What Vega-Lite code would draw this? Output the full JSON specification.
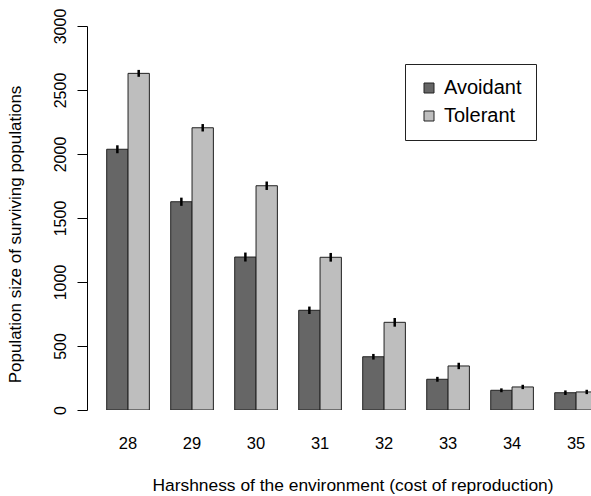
{
  "$schema": "https://vega.github.io/schema/vega-lite/v6.json",
  "width": 504,
  "height": 384,
  "autosize": {"type": "none"},
  "padding": {"left": 87, "top": 26, "right": 0, "bottom": 86},
  "config": {"view": {"stroke": null}, "font": "Liberation Sans"},
  "data": {
    "values": [
      {"cost": 28, "strategy": "Avoidant", "value": 2037, "lo": 2006, "hi": 2068},
      {"cost": 28, "strategy": "Tolerant", "value": 2630, "lo": 2603, "hi": 2657},
      {"cost": 29, "strategy": "Avoidant", "value": 1627, "lo": 1595, "hi": 1659},
      {"cost": 29, "strategy": "Tolerant", "value": 2205, "lo": 2176, "hi": 2234},
      {"cost": 30, "strategy": "Avoidant", "value": 1195, "lo": 1160, "hi": 1230},
      {"cost": 30, "strategy": "Tolerant", "value": 1752, "lo": 1719, "hi": 1785},
      {"cost": 31, "strategy": "Avoidant", "value": 779, "lo": 750, "hi": 808},
      {"cost": 31, "strategy": "Tolerant", "value": 1193, "lo": 1159, "hi": 1227},
      {"cost": 32, "strategy": "Avoidant", "value": 416, "lo": 394, "hi": 438},
      {"cost": 32, "strategy": "Tolerant", "value": 685, "lo": 651, "hi": 719},
      {"cost": 33, "strategy": "Avoidant", "value": 240, "lo": 221, "hi": 259},
      {"cost": 33, "strategy": "Tolerant", "value": 344, "lo": 319, "hi": 369},
      {"cost": 34, "strategy": "Avoidant", "value": 154, "lo": 139, "hi": 169},
      {"cost": 34, "strategy": "Tolerant", "value": 180, "lo": 163, "hi": 197},
      {"cost": 35, "strategy": "Avoidant", "value": 135, "lo": 117, "hi": 153},
      {"cost": 35, "strategy": "Tolerant", "value": 141, "lo": 124, "hi": 158}
    ]
  },
  "encoding": {
    "x": {
      "field": "cost",
      "type": "ordinal",
      "scale": {"range": [0, 530.1], "paddingInner": 0.3333, "paddingOuter": 0.3078},
      "axis": {
        "title": "Harshness of the environment (cost of reproduction)",
        "labelAngle": 0,
        "ticks": false,
        "tickSize": 0,
        "domain": false,
        "labelFontSize": 16.5,
        "labelColor": "black",
        "labelBaseline": "middle",
        "labelPadding": 33,
        "titleFontSize": 17.4,
        "titleFontWeight": "normal",
        "titleColor": "black",
        "titleX": 265.5,
        "titleY": 80,
        "titleAlign": "center",
        "titleBaseline": "alphabetic"
      }
    },
    "xOffset": {
      "field": "strategy",
      "type": "nominal",
      "sort": ["Avoidant", "Tolerant"],
      "scale": {"paddingInner": 0, "paddingOuter": 0}
    }
  },
  "layer": [
    {
      "mark": {"type": "bar", "clip": true, "stroke": "#222222", "strokeWidth": 1},
      "encoding": {
        "y": {
          "field": "value",
          "type": "quantitative",
          "scale": {"domain": [0, 3000], "nice": false},
          "axis": {
            "title": "Population size of surviving populations",
            "values": [0, 500, 1000, 1500, 2000, 2500, 3000],
            "format": "d",
            "grid": false,
            "tickSize": 10,
            "tickColor": "black",
            "domainColor": "black",
            "labelColor": "black",
            "labelFontSize": 16,
            "labelAngle": 270,
            "labelAlign": "center",
            "labelBaseline": "alphabetic",
            "labelPadding": 12,
            "labelOverlap": false,
            "titleFontSize": 17,
            "titleFontWeight": "normal",
            "titleColor": "black",
            "titleAngle": 270,
            "titleAlign": "center",
            "titleBaseline": "alphabetic",
            "titleX": -67,
            "titleY": 208
          }
        },
        "fill": {
          "field": "strategy",
          "type": "nominal",
          "scale": {"domain": ["Avoidant", "Tolerant"], "range": ["#666666", "#bebebe"]},
          "legend": {
            "title": null,
            "orient": "none",
            "legendX": 318,
            "legendY": 38,
            "strokeColor": "#222222",
            "fillColor": "white",
            "padding": 14,
            "symbolType": "square",
            "symbolSize": 100,
            "symbolStrokeColor": "#222222",
            "symbolStrokeWidth": 1,
            "symbolOpacity": 1,
            "labelFontSize": 20,
            "labelColor": "black",
            "labelOffset": 5,
            "rowPadding": 8
          }
        }
      }
    },
    {
      "mark": {"type": "rule", "clip": true, "color": "black", "strokeWidth": 2.5},
      "encoding": {
        "y": {"field": "lo", "type": "quantitative"},
        "y2": {"field": "hi"}
      }
    }
  ]
}
